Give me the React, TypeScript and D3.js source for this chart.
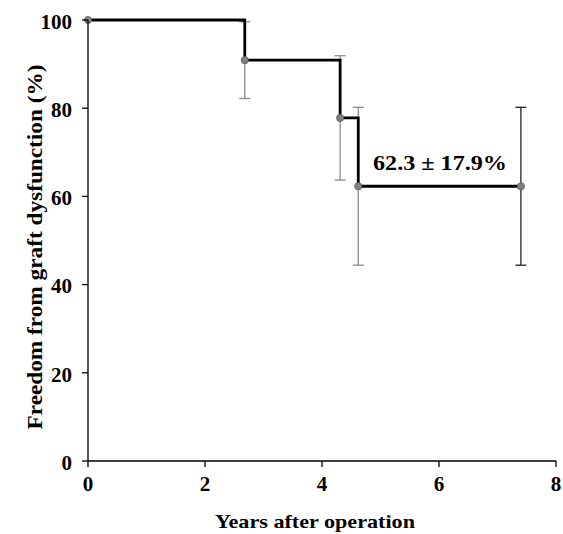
import * as d3 from 'd3';

// Kaplan-Meier steps: time (years), survival (%), standard error (%)
const times = [0, 2.68, 4.31, 4.62, 7.4];
const survival = [100, 90.9, 77.8, 62.3, 62.3];
const errors = [0, 8.7, 14.1, 17.9, 17.9];
const xTicks = [0, 2, 4, 6, 8];
const yTicks = [0, 20, 40, 60, 80, 100];
const annotation = '62.3 ± 17.9%';

const W = 563;
const H = 534;
const margin = { top: 20, right: 7, bottom: 73, left: 88 };
const FONT = "'Times New Roman', 'Liberation Serif', Times, serif";

export default function App() {
  const x = d3.scaleLinear().domain([0, 8]).range([margin.left, W - margin.right]);
  const y = d3.scaleLinear().domain([0, 100]).range([H - margin.bottom, margin.top]);

  const pts = times.map((t, i) => ({ t, s: survival[i], e: errors[i] }));
  const line = d3
    .line<{ t: number; s: number }>()
    .x((d) => x(d.t))
    .y((d) => y(d.s))
    .curve(d3.curveStepAfter);

  const y0 = y(0);
  const cap = 5.5;

  return (
    <svg
      width={W}
      height={H}
      style={{ position: 'absolute', left: 0, top: 0, background: '#fff', fontFamily: FONT, fontWeight: 700 }}
    >
      {/* error bars */}
      {pts.map((d, i) =>
        d.e > 0 ? (
          <g key={`e${i}`} stroke={i === pts.length - 1 ? '#222' : '#8a8a8a'} strokeWidth={1.3}>
            <line x1={x(d.t)} x2={x(d.t)} y1={y(d.s + d.e)} y2={y(d.s - d.e)} />
            <line x1={x(d.t) - cap} x2={x(d.t) + cap} y1={y(d.s + d.e)} y2={y(d.s + d.e)} />
            <line x1={x(d.t) - cap} x2={x(d.t) + cap} y1={y(d.s - d.e)} y2={y(d.s - d.e)} />
          </g>
        ) : null
      )}

      {/* step curve */}
      <path d={line(pts) || ''} fill="none" stroke="#000" strokeWidth={2.8} />

      {/* markers */}
      {pts.map((d, i) => (
        <circle key={`m${i}`} cx={x(d.t)} cy={y(d.s)} r={3.6} fill="#808080" stroke="#5a5a5a" strokeWidth={0.8} />
      ))}

      {/* y axis */}
      <line x1={margin.left} x2={margin.left} y1={y(100)} y2={y0} stroke="#000" strokeWidth={1.3} />
      {yTicks.map((t) => (
        <g key={`yt${t}`}>
          <line x1={margin.left - 6} x2={margin.left} y1={y(t)} y2={y(t)} stroke="#000" strokeWidth={1.3} />
          <text x={margin.left - 16} y={y(t)} dy="0.42em" textAnchor="end" fontSize={21}>
            {t}
          </text>
        </g>
      ))}

      {/* x axis */}
      <line x1={margin.left} x2={x(8)} y1={y0} y2={y0} stroke="#000" strokeWidth={1.3} />
      {xTicks.map((t) => (
        <g key={`xt${t}`}>
          <line x1={x(t)} x2={x(t)} y1={y0} y2={y0 + 6} stroke="#000" strokeWidth={1.3} />
          <text x={x(t)} y={y0 + 30} textAnchor="middle" fontSize={21}>
            {t}
          </text>
        </g>
      ))}

      {/* labels */}
      <text
        x={315}
        y={H - 6}
        textAnchor="middle"
        fontSize={19}
        textLength={200}
        lengthAdjust="spacingAndGlyphs"
      >
        Years after operation
      </text>
      <text
        transform={`translate(42,247) rotate(-90)`}
        textAnchor="middle"
        fontSize={20}
        textLength={365}
        lengthAdjust="spacingAndGlyphs"
      >
        Freedom from graft dysfunction (%)
      </text>

      {/* annotation */}
      <text
        x={373}
        y={y(survival[3]) - 16}
        fontSize={22}
        textLength={134}
        lengthAdjust="spacingAndGlyphs"
      >
        {annotation}
      </text>
    </svg>
  );
}
